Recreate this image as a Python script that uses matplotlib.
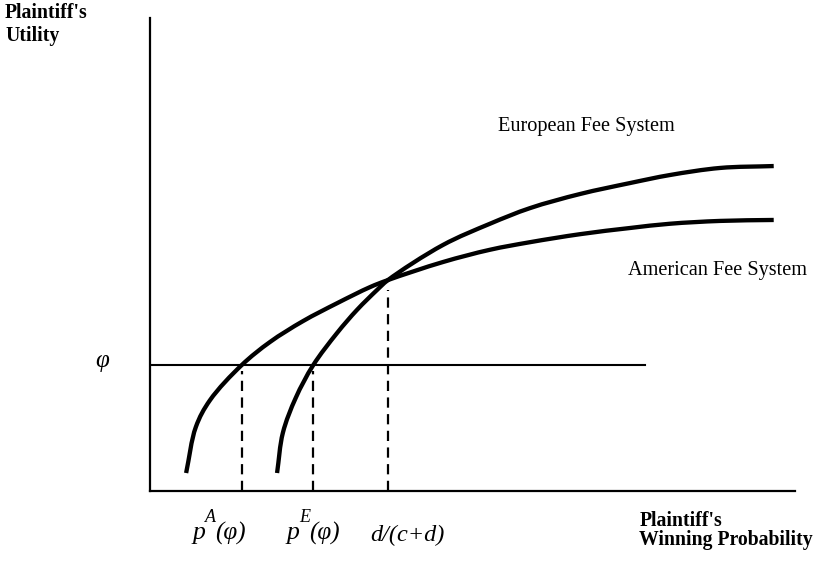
import matplotlib
matplotlib.use("Agg")
import matplotlib.pyplot as plt
from matplotlib.path import Path
from matplotlib.patches import PathPatch

# Winning probability (x) and plaintiff's utility (y), both on a 0-1 scale
american_p = [0.056, 0.071, 0.093, 0.142, 0.186, 0.237, 0.290, 0.341, 0.369,
              0.454, 0.527, 0.589, 0.667, 0.744, 0.806, 0.884, 0.967]
american_u = [0.038, 0.135, 0.192, 0.266, 0.315, 0.359, 0.397, 0.431, 0.446,
              0.484, 0.510, 0.526, 0.543, 0.556, 0.565, 0.571, 0.573]

european_p = [0.197, 0.206, 0.226, 0.253, 0.290, 0.321, 0.352, 0.369,
              0.454, 0.527, 0.589, 0.667, 0.744, 0.806, 0.884, 0.967]
european_u = [0.038, 0.123, 0.197, 0.266, 0.334, 0.383, 0.425, 0.446,
              0.520, 0.565, 0.598, 0.628, 0.651, 0.668, 0.683, 0.687]

phi = 0.266          # reservation utility
phi_line_end = 0.767
p_A = 0.142          # American threshold probability
p_E = 0.253          # European threshold probability
p_cross = 0.369      # d/(c+d), where the two curves meet
u_cross = 0.446

W, H = 813, 561
fig = plt.figure(figsize=(W / 100, H / 100), dpi=100)
fig.patch.set_facecolor("white")

def fx(px):
    return px / W

def fy(py):
    return 1 - py / H

AX_W, AX_H = 795 - 150, 491 - 18
ax = fig.add_axes([fx(150), fy(491), AX_W / W, AX_H / H])
ax.set_xlim(0, 1)
ax.set_ylim(0, 1)
for side in ("top", "right"):
    ax.spines[side].set_visible(False)
for side in ("left", "bottom"):
    ax.spines[side].set_linewidth(1.6)
    ax.spines[side].set_color("black")
ax.set_xticks([])
ax.set_yticks([])
ax.patch.set_alpha(0)


def smooth_path(xs, ys, alpha=0.5):
    """Centripetal Catmull-Rom curve through every point, as cubic Beziers."""
    pts = [(x * AX_W, y * AX_H) for x, y in zip(xs, ys)]
    n = len(pts)
    first = (2 * pts[0][0] - pts[1][0], 2 * pts[0][1] - pts[1][1])
    last = (2 * pts[-1][0] - pts[-2][0], 2 * pts[-1][1] - pts[-2][1])
    ext = [first] + pts + [last]

    def gap(a, b):
        d = ((b[0] - a[0]) ** 2 + (b[1] - a[1]) ** 2) ** 0.5
        return max(d, 1e-9) ** alpha

    verts = [pts[0]]
    codes = [Path.MOVETO]
    for i in range(1, n):
        p0, p1, p2, p3 = ext[i - 1], ext[i], ext[i + 1], ext[i + 2]
        d1, d2, d3 = gap(p0, p1), gap(p1, p2), gap(p2, p3)
        m1 = [d2 * ((p1[k] - p0[k]) / d1 - (p2[k] - p0[k]) / (d1 + d2)
                    + (p2[k] - p1[k]) / d2) for k in range(2)]
        m2 = [d2 * ((p2[k] - p1[k]) / d2 - (p3[k] - p1[k]) / (d2 + d3)
                    + (p3[k] - p2[k]) / d3) for k in range(2)]
        c1 = (p1[0] + m1[0] / 3, p1[1] + m1[1] / 3)
        c2 = (p2[0] - m2[0] / 3, p2[1] - m2[1] / 3)
        verts += [c1, c2, p2]
        codes += [Path.CURVE4] * 3
    verts = [(vx / AX_W, vy / AX_H) for vx, vy in verts]
    return Path(verts, codes)


# utility curves
for xs, ys in ((american_p, american_u), (european_p, european_u)):
    ax.add_patch(PathPatch(smooth_path(xs, ys), facecolor="none",
                           edgecolor="black", lw=3.1, capstyle="butt",
                           joinstyle="round"))

# reservation utility level
ax.plot([0, phi_line_end], [phi, phi], color="black", lw=1.5)

# dashed drop lines to the probability axis
dash = (0, (4.6, 2.9))
ax.plot([p_A, p_A], [0, phi - 0.012], color="black", lw=1.6, linestyle=dash)
ax.plot([p_E, p_E], [0, phi - 0.012], color="black", lw=1.6, linestyle=dash)
ax.plot([p_cross, p_cross], [0, u_cross - 0.02], color="black", lw=1.6,
        linestyle=dash)

serif = "Liberation Serif"

# axis titles
fig.text(fx(5), fy(18), "Plaintiff's", family=serif, weight="bold",
         fontsize=14.2, va="baseline", ha="left")
fig.text(fx(5), fy(41), "Utility", family=serif, weight="bold",
         fontsize=14.2, va="baseline", ha="left")
fig.text(fx(640), fy(526), "Plaintiff's", family=serif, weight="bold",
         fontsize=14.2, va="baseline", ha="left")
fig.text(fx(639), fy(545), "Winning Probability", family=serif,
         weight="bold", fontsize=14.2, va="baseline", ha="left")

# curve names
fig.text(fx(498), fy(131), "European Fee System", family=serif,
         fontsize=14.6, va="baseline", ha="left")
fig.text(fx(628), fy(275), "American Fee System", family=serif,
         fontsize=14.6, va="baseline", ha="left")

# phi on the utility axis
fig.text(fx(102), fy(361), "\u03c6", family=serif, style="italic",
         fontsize=18, va="center", ha="center")

# threshold labels under the probability axis
def threshold_label(x0, sup):
    fig.text(fx(x0), fy(539), "p", family=serif, style="italic",
             fontsize=18.5, va="baseline", ha="left")
    fig.text(fx(x0 + 12), fy(522), sup, family=serif, style="italic",
             fontsize=13, va="baseline", ha="left")
    fig.text(fx(x0 + 22), fy(540), "(\u03c6)", family=serif, style="italic",
             fontsize=18, va="baseline", ha="left")

threshold_label(193, "A")
threshold_label(287, "E")
fig.text(fx(370), fy(541), "d/(c+d)", family=serif, style="italic",
         fontsize=17.5, va="baseline", ha="left")

fig.savefig("out.png", dpi=100, facecolor="white")
